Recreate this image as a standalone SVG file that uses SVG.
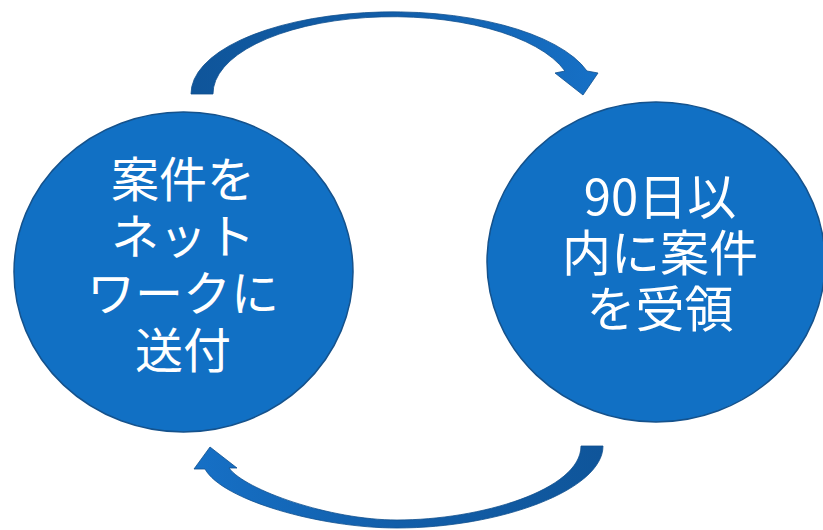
<svg xmlns="http://www.w3.org/2000/svg" width="823" height="530" viewBox="0 0 823 530">
<defs>
<linearGradient id="gTop" x1="0" y1="0" x2="1" y2="0">
<stop offset="0" stop-color="#0f559a"/>
<stop offset="0.5" stop-color="#125ea9"/>
<stop offset="1" stop-color="#1670c6"/>
</linearGradient>
<linearGradient id="gBot" x1="1" y1="0" x2="0" y2="0">
<stop offset="0" stop-color="#0f559a"/>
<stop offset="0.5" stop-color="#125ea9"/>
<stop offset="1" stop-color="#1670c6"/>
</linearGradient>
<style>
.node{fill:#1170c4;stroke:#15528c;stroke-width:1.5}
.lbl{fill:#ffffff;font-family:"Noto Sans CJK JP","Noto Sans",sans-serif;text-anchor:middle}
.arrow{stroke:#0f4f8e;stroke-width:0.8;stroke-linejoin:round}
</style>
</defs>
<rect width="823" height="530" fill="#ffffff"/>
<g id="connectors">
<path class="arrow" fill="url(#gTop)" d="M191,94 A202,82 0 0 1 587,71 L598,73 L583,95 L555,73 L565,71 A180,77 0 0 0 213,94 Z"/>
<path class="arrow" fill="url(#gBot)" d="M603,446 C603,490 500,528 397,528 C320,528 222,500 205,469 L194,469 L210,447 L237,468 L229,468 C245,490 330,520 397,520 C480,520 581,490 581,446 Z"/>
</g>
<g id="node-send">
<ellipse class="node" cx="183.5" cy="272" rx="169.5" ry="160"/>
<text class="lbl" font-size="48" x="183" y="197">案件を</text>
<text class="lbl" font-size="48" x="183" y="254">ネット</text>
<text class="lbl" font-size="48" x="183" y="311">ワークに</text>
<text class="lbl" font-size="48" x="183" y="368">送付</text>
</g>
<g id="node-receive">
<ellipse class="node" cx="656" cy="262" rx="169" ry="160"/>
<text class="lbl" font-size="49" x="660" y="215">90日以</text>
<text class="lbl" font-size="49" x="660" y="271">内に案件</text>
<text class="lbl" font-size="49" x="660" y="327">を受領</text>
</g>
</svg>
